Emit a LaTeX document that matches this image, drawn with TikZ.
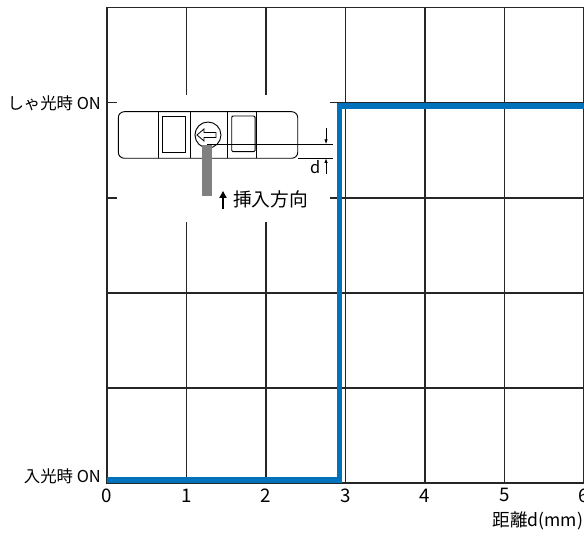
\documentclass[tikz,border=0pt]{standalone}
\usepackage{fontspec}
\setmainfont{Noto Sans CJK JP}
\usetikzlibrary{arrows.meta}
\definecolor{sigblue}{RGB}{0,114,188}
\begin{document}
\begin{tikzpicture}[x=2.385cm,y=2.85cm,
	gridline/.style={line width=0.9pt,black!85},
	part/.style={line width=0.8pt},
	axlabel/.style={font=\fontsize{14}{16}\selectfont,inner sep=0pt},
	ticklabel/.style={font=\fontsize{16}{18}\selectfont,inner sep=0pt}]
		\useasboundingbox (-1.346,-0.558) rectangle (6,5.084);
		\foreach \i in {1,...,6} \draw[gridline] (\i,0)--(\i,5);
		\foreach \j in {1,...,4} \draw[gridline] (0,\j)--(6.1,\j);
		\draw[gridline] (6.1,5)--(0,5)--(0,0)--(6.1,0);
		\fill[white] (0.126,2.75) rectangle (2.81,4.08);
		\foreach \i in {0,...,6} \node[ticklabel] (tick\i) at (\i,-0.13) {\i};
		\node[axlabel,anchor=east] (offlbl) at (-0.075,4) {しゃ光時 ON};
		\node[axlabel,anchor=east] (onlbl) at (-0.075,0.07) {入光時 ON};
		\node[axlabel,anchor=east,font=\fontsize{15}{17}\selectfont] (xlbl) at (5.99,-0.4) {距離d(mm)};
		\draw[part,rounded corners=0.18cm] (0.142,3.418) rectangle (2.399,3.908);
		\foreach \u in {0.650,1.044,1.513,1.883} \draw[part] (\u,3.418)--(\u,3.908);
		\draw[part] (0.696,3.481) rectangle (0.990,3.856);
		\draw[part,rounded corners=1pt] (1.569,3.488) rectangle (1.862,3.863);
		\draw[part] (1.270,3.663) circle[radius=0.39cm];
		\draw[line width=0.7pt] (1.132,3.663)--(1.220,3.726)--(1.220,3.689)--(1.371,3.689)--(1.371,3.637)--(1.220,3.637)--(1.220,3.600)--cycle;
		\fill[black!50] (1.195,3.021) rectangle (1.321,3.558);
		\draw[part] (1.258,3.568)--(2.843,3.568);
		\draw[part] (2.399,3.418)--(2.843,3.418);
		\draw[-{Latex[length=4pt,width=3pt]},line width=0.6pt] (2.755,3.737)--(2.755,3.568);
		\draw[-{Latex[length=4pt,width=3pt]},line width=0.6pt] (2.755,3.253)--(2.755,3.418);
		\node[font=\fontsize{14}{16}\selectfont,inner sep=0pt] (dlbl) at (2.62,3.326) {d};
		\draw[-{Triangle[length=6pt,width=6pt]},line width=1.6pt] (1.459,2.884)--(1.459,3.074);
		\node[anchor=west,font=\fontsize{16}{18}\selectfont,inner sep=0pt] (insdir) at (1.585,2.989) {挿入方向};
		\draw[sigblue,line width=0.16cm] (0,0.032)-|(2.925,3.968)--(6.1,3.968);
	    \end{tikzpicture}
\end{document}
